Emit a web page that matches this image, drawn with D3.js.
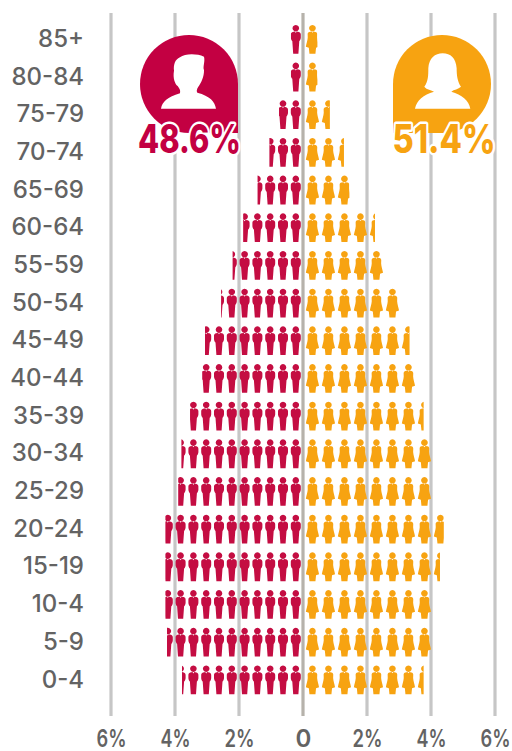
<!DOCTYPE html>
<html><head><meta charset="utf-8">
<script src="https://cdn.jsdelivr.net/npm/d3@7"></script>
<style>html,body{margin:0;padding:0;background:#fff}svg{display:block}text{font-family:Inter,sans-serif}</style>
</head><body><svg id="c" width="512" height="751"></svg>
<script>
const ages = ["85+","80-84","75-79","70-74","65-69","60-64","55-59","50-54","45-49","40-44","35-39","30-34","25-29","20-24","15-19","10-4","5-9","0-4"];
const male = [0.38,0.38,0.75,1.05,1.42,1.87,2.2,2.56,3.06,3.15,3.53,3.8,3.9,4.3,4.3,4.3,4.25,3.78];
const female = [0.45,0.45,0.84,1.28,1.45,2.25,2.5,3.0,3.33,3.5,3.77,4.0,4.0,4.4,4.28,4.0,4.0,3.77];
const ticks = [-6,-4,-2,0,2,4,6];
const totals = [{label:"48.6%",side:"m"},{label:"51.4%",side:"f"}];
const maleUnit = 0.4, femaleUnit = 0.5;
const RED = "#c40d42", ORANGE = "#f7a311", BADGE_RED="#c30042", GREY="#636363";

const svg = d3.select("#c");
const x = d3.scaleLinear().domain([-6,6]).range([111,495]);
const y = d3.scalePoint().domain(ages).range([39.5,680]);

// grid
svg.append("g").selectAll("line").data(ticks).join("line")
  .attr("x1",d=>x(d)).attr("x2",d=>x(d)).attr("y1",13).attr("y2",716)
  .attr("stroke",d=>d===0?"#b6b2ab":"#c6c6c6").attr("stroke-width",3.2);

const maleIcon = "M0,-14.6a3.3,3.3 0 1 1 -0.01,0Z M-3.2,-7.6 L-0.9,-8 L0,-6.6 L0.9,-8 L3.2,-7.6 C4.4,-7.2 5,-6.4 5,-5 L5,-2 C5,-0.6 4.3,0.8 3.5,1.6 L2.6,14.2 L-2.6,14.2 L-3.5,1.6 C-4.3,0.8 -5,-0.6 -5,-2 L-5,-5 C-5,-6.4 -4.4,-7.2 -3.2,-7.6Z";
const femaleIcon = "M0,-14.6a3.3,3.3 0 1 1 -0.01,0Z M-3,-7.6 L-1,-8 L0,-6.8 L1,-8 L3,-7.6 C4.2,-7.2 4.8,-6.4 4.8,-5.4 L4.7,-2 C4.9,1 6,4 6.6,7.2 L3.6,8.2 L3,14.2 L-3,14.2 L-3.6,8.2 L-6.6,7.2 C-6,4 -4.9,1 -4.7,-2 L-4.8,-5.4 C-4.8,-6.4 -4.2,-7.2 -3,-7.6Z";

const defs = svg.append("defs");
function rows(values, cls, unit, first, iconPath, color, sign){
  const clipId = (d,i)=>cls+"-clip-"+i;
  defs.selectAll("clipPath."+cls).data(values).join("clipPath").attr("class",cls).attr("id",clipId)
    .append("rect")
    .attr("x",d=>sign<0?x(-d):x(0))
    .attr("width",d=>Math.abs(x(d)-x(0)))
    .attr("y",(d,i)=>y(ages[i])-16).attr("height",32);
  svg.append("g").selectAll("g").data(values).join("g")
    .attr("clip-path",(d,i)=>`url(#${clipId(d,i)})`)
    .each(function(v,i){
      d3.select(this).selectAll("path").data(d3.range(Math.ceil(v/unit))).join("path")
        .attr("d",iconPath).attr("fill",color)
        .attr("transform",k=>`translate(${x(sign*(first+k*unit))},${y(ages[i])})`);
    });
}
rows(male,"m",maleUnit,0.225,maleIcon,RED,-1);
rows(female,"f",femaleUnit,0.295,femaleIcon,ORANGE,1);

// axes
const xAxis = d3.axisBottom(x).tickValues(ticks).tickSize(0).tickPadding(0)
  .tickFormat(d=>d===0?"0":Math.abs(d)+"%");
const gx = svg.append("g").attr("transform","translate(0,747)").call(xAxis);
gx.select(".domain").remove();
gx.selectAll("text").attr("y",0).attr("dy",0).attr("fill",GREY).attr("font-size",24).attr("font-family","Inter").attr("font-weight",600)
  .filter(d=>d!==0).attr("textLength",30).attr("lengthAdjust","spacingAndGlyphs");

const yAxis = d3.axisLeft(y).tickSize(0).tickPadding(0);
const gy = svg.append("g").attr("transform","translate(84,0)").call(yAxis);
gy.select(".domain").remove();
gy.selectAll("text").attr("dy",0).attr("y",7).attr("fill",GREY).attr("font-size",24).attr("font-family","Inter").attr("font-weight",500);

// badges
const R = 49, CY = 84;
const badge = svg.append("g");
const cxM = 189, cxF = 442;
badge.append("path").attr("fill",BADGE_RED)
  .attr("d",`M${cxM+R},${CY} A${R},${R} 0 1 0 ${cxM},${CY+R} L${cxM+R},${CY+R} Z`);
badge.append("path").attr("fill",ORANGE)
  .attr("d",`M${cxF-R},${CY} A${R},${R} 0 1 1 ${cxF},${CY+R} L${cxF-R},${CY+R} Z`);
badge.append("path").attr("fill","#fff").attr("transform","translate(130,10) scale(0.3333)")
  .attr("d","M93,296 C97,275 112,262 150,250 C152,240 148,235 143,228 C135,222 128,205 132,182 C130,165 135,148 150,142 C165,130 200,130 222,140 C226,155 218,170 222,180 C223,200 212,222 205,230 C200,238 199,243 202,248 C240,258 255,275 258,296 Z");
badge.append("path").attr("fill","#fff").attr("transform","translate(290,10) scale(0.3333)")
  .attr("d","M375,296 C380,270 400,255 432,245 C425,240 410,240 403,230 C415,215 415,195 415,175 C417,145 435,130 458,130 C482,130 498,145 500,175 C500,195 502,215 513,230 C505,238 492,238 484,245 C515,255 537,270 541,296 Z");
svg.append("g").selectAll("text").data(totals).join("text")
  .attr("x",d=>d.side==="m"?189.5:444).attr("y",153).attr("text-anchor","middle")
  .attr("font-size",39).attr("font-weight",800).attr("font-family","Inter")
  .attr("textLength",103).attr("lengthAdjust","spacingAndGlyphs")
  .attr("fill",d=>d.side==="m"?BADGE_RED:ORANGE)
  .attr("stroke","#fff").attr("stroke-width",5).attr("stroke-linejoin","round").attr("paint-order","stroke")
  .text(d=>d.label);
</script></body></html>
